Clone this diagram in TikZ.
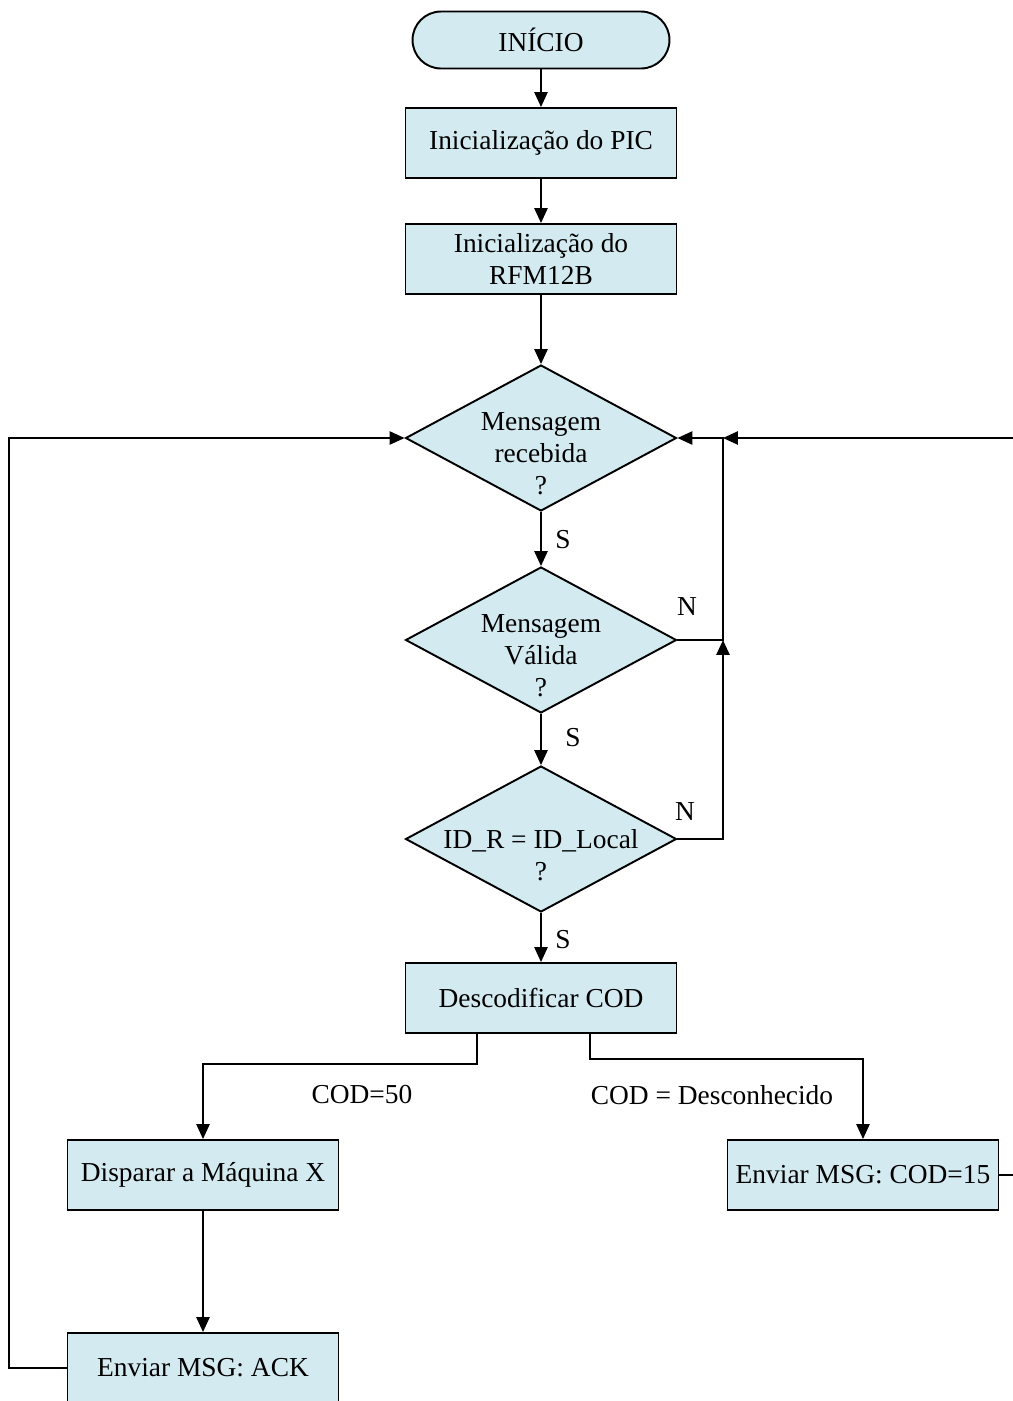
\documentclass[tikz,border=0pt]{standalone}
\usepackage{fontspec}
\setmainfont{Liberation Serif}
\usetikzlibrary{shapes.geometric,arrows.meta,calc}
\definecolor{boxfill}{RGB}{210,234,240}
\begin{document}
\begin{tikzpicture}[x=0.02cm,y=-0.02cm,
  font=\fontsize{15.6}{18.2}\selectfont,
  every node/.style={inner sep=0pt},
  line/.style={line width=1.1pt},
  arr/.style={line, -{Triangle[length=8.5pt,width=7.5pt]}},
  procbox/.style={draw, line width=1.1pt, fill=boxfill, rectangle,
    minimum width=5.42cm, minimum height=1.4cm, align=center},
  termbox/.style={draw, line width=1.1pt, fill=boxfill, rectangle,
    rounded corners=0.57cm, minimum width=5.14cm, minimum height=1.14cm},
  decbox/.style={draw, line width=1.1pt, fill=boxfill, diamond,
    minimum width=5.42cm, minimum height=2.92cm},
  dectext/.style={align=center},
  lbl/.style={}]
\useasboundingbox (0,0) rectangle (1013,1401);
\clip (0,0) rectangle (1013,1401);

% main column
\node[termbox] (ini) at (541,40) {INÍCIO};
\node[procbox] (pic) at (541,143) {Inicialização do PIC};
\node[procbox] (rfm) at (541,259) {Inicialização do\\RFM12B};
\node[decbox] (d1) at (541,438) {};
\node[dectext] (t1) at (541,454) {Mensagem\\recebida\\?};
\node[decbox] (d2) at (541,640) {};
\node[dectext] (t2) at (541,656) {Mensagem\\Válida\\?};
\node[decbox] (d3) at (541,839) {};
\node[dectext] (t3) at (541,855) {ID\_R = ID\_Local\\?};
\node[procbox] (desc) at (541,998) {Descodificar COD};
\node[procbox] (disp) at (203,1175) {Disparar a Máquina X};
\node[procbox] (e15) at (863,1175) {Enviar MSG: COD=15};
\node[procbox] (ack) at (203,1368) {Enviar MSG: ACK};

% junctions and open ends
\coordinate (j1) at (723,438);
\coordinate (j2) at (723,640);
\coordinate (rin) at (1013,438);
\coordinate (rout) at (1013,1175);

% downward flow
\draw[arr] (ini) -- (pic);
\draw[arr] (pic) -- (rfm);
\draw[arr] (rfm) -- (d1);
\draw[arr] (d1) -- (d2);
\draw[arr] (d2) -- (d3);
\draw[arr] (d3) -- (desc);
\draw[arr] (disp) -- (ack);

% "N" returns
\draw[arr] (d2.east) -- (j2) -- (j1) -- (d1.east);
\draw[arr] (d3.east) -| (j2);
\draw[arr] (rin) -- (j1);

% decoding branches
\draw[arr] ($(desc.south)+(-64,0)$) -- ++(0,30) -| (disp.north);
\draw[arr] ($(desc.south)+(49,0)$) -- ++(0,25) -| (e15.north);
\draw[line] (e15.east) -- (rout);

% loop back from ACK
\draw[arr] (ack.west) -- ++(-58,0) |- (d1.west);

% labels
\node[lbl] (s1) at (563,540) {S};
\node[lbl] (s2) at (573,738) {S};
\node[lbl] (s3) at (563,940) {S};
\node[lbl] (n1) at (687,607) {N};
\node[lbl] (n2) at (685,812) {N};
\node[lbl] (c50) at (362,1095) {COD=50};
\node[lbl] (cdes) at (712,1095) {COD = Desconhecido};
\end{tikzpicture}
\end{document}
